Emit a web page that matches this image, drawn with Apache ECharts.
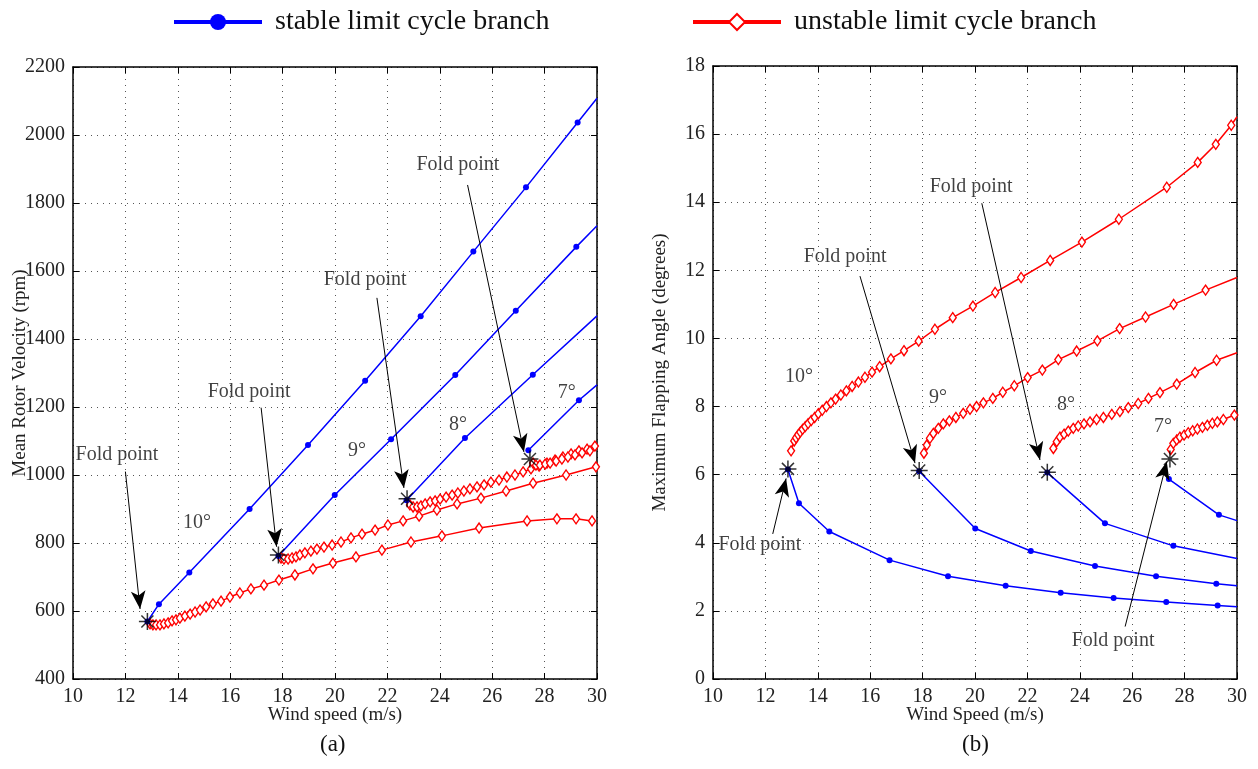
<!DOCTYPE html>
<html>
<head>
<meta charset="utf-8">
<script src="https://cdn.jsdelivr.net/npm/echarts@6/dist/echarts.min.js"></script>
<style>
html,body{margin:0;padding:0;background:#fff;}
#chart{width:1258px;height:769px;}
</style>
</head>
<body>
<div id="chart"></div>
<script>
// ---------- data ----------
// (a) mean rotor velocity (rpm) vs wind speed (m/s)
var rpmStable10 = [[12.84,569],[13.28,620],[14.44,713],[16.74,900],[18.97,1088],[21.15,1277],[23.27,1467],[25.28,1657],[27.29,1846],[29.26,2037],[30,2108]];
var rpmStable9 = [[17.84,762],[19.99,941],[22.14,1105],[24.59,1294],[26.9,1483],[29.21,1671],[30,1733]];
var rpmStable8 = [[22.73,926],[24.96,1109],[27.55,1295],[30,1468]];
var rpmStable7 = [[27.38,1073],[29.31,1220],[30,1265]];

var rpmUnstable10 = [[12.94,562],[13.05,559],[13.17,559],[13.32,559],[13.47,562],[13.63,565],[13.78,571],[13.93,574],[14.08,579],[14.27,585],[14.47,591],[14.66,597],[14.85,603],[15.08,612],[15.34,621],[15.65,629],[15.99,641],[16.37,653],[16.79,665],[17.29,676],[17.86,691],[18.47,706],[19.16,724],[19.92,741],[20.8,759],[21.79,779],[22.9,803],[24.08,821],[25.5,844],[27.33,865],[28.47,871],[29.2,871],[29.81,865]];
var rpmUnstable9 = [[17.94,756],[18.05,753],[18.21,753],[18.36,756],[18.51,759],[18.66,765],[18.85,771],[19.08,776],[19.31,782],[19.58,788],[19.89,794],[20.23,803],[20.61,815],[21.03,826],[21.53,838],[22.02,853],[22.6,865],[23.21,879],[23.89,897],[24.66,915],[25.57,932],[26.53,953],[27.56,976],[28.82,1000],[29.96,1024]];
var rpmUnstable8 = [[22.86,912],[22.98,906],[23.13,906],[23.28,909],[23.44,915],[23.63,921],[23.82,924],[24.01,929],[24.24,935],[24.47,941],[24.69,947],[24.92,953],[25.15,959],[25.42,965],[25.69,971],[25.95,979],[26.26,985],[26.56,994],[26.87,1000],[27.18,1009],[27.48,1018],[27.79,1026],[28.09,1035],[28.4,1044],[28.7,1053],[29.01,1062],[29.31,1071],[29.62,1076],[29.92,1085]];
var rpmUnstable7 = [[27.56,1035],[27.67,1029],[27.82,1029],[28.02,1032],[28.21,1035],[28.44,1041],[28.66,1047],[28.89,1053],[29.16,1059],[29.43,1065],[29.73,1071],[30,1076]];
var rpmFold = [[12.84,569],[17.84,765],[22.75,930],[27.44,1047]];

// (b) maximum flapping angle (degrees) vs wind speed (m/s)
var flapStable10 = [[12.86,6.15],[13.28,5.16],[14.44,4.33],[16.74,3.49],[18.97,3.02],[21.17,2.74],[23.27,2.53],[25.29,2.38],[27.3,2.26],[29.26,2.16],[30,2.12]];
var flapStable9 = [[17.87,6.1],[20.01,4.42],[22.13,3.76],[24.58,3.32],[26.91,3.02],[29.21,2.8],[30,2.74]];
var flapStable8 = [[22.76,6.06],[24.96,4.57],[27.57,3.91],[30,3.54]];
var flapStable7 = [[27.4,5.87],[29.31,4.82],[30,4.65]];

var flapUnstable10 = [[12.98,6.7],[13.1,6.99],[13.17,7.08],[13.25,7.17],[13.33,7.25],[13.42,7.33],[13.52,7.41],[13.63,7.5],[13.75,7.59],[13.88,7.68],[14.02,7.79],[14.17,7.89],[14.33,8.0],[14.5,8.11],[14.68,8.22],[14.88,8.34],[15.09,8.46],[15.31,8.59],[15.55,8.72],[15.8,8.86],[16.07,9.01],[16.36,9.17],[16.79,9.4],[17.29,9.64],[17.85,9.92],[18.47,10.27],[19.15,10.61],[19.92,10.95],[20.77,11.35],[21.76,11.79],[22.87,12.29],[24.08,12.83],[25.49,13.5],[27.32,14.44],[28.5,15.17],[29.19,15.7],[29.78,16.26],[30,16.51]];
var flapUnstable9 = [[18.05,6.63],[18.16,6.87],[18.28,7.07],[18.41,7.21],[18.6,7.36],[18.79,7.49],[19.02,7.58],[19.27,7.68],[19.55,7.8],[19.81,7.92],[20.06,8.0],[20.32,8.11],[20.68,8.24],[21.06,8.42],[21.5,8.61],[22.01,8.85],[22.57,9.07],[23.18,9.38],[23.88,9.63],[24.67,9.93],[25.52,10.29],[26.51,10.63],[27.58,11.0],[28.8,11.42],[30,11.79]];
var flapUnstable8 = [[22.99,6.77],[23.12,6.97],[23.24,7.1],[23.4,7.19],[23.56,7.28],[23.75,7.36],[23.94,7.43],[24.16,7.49],[24.39,7.55],[24.64,7.62],[24.9,7.68],[25.22,7.77],[25.53,7.85],[25.85,7.97],[26.23,8.09],[26.62,8.24],[27.06,8.41],[27.7,8.66],[28.4,9.0],[29.22,9.36],[30,9.58]];
var flapUnstable7 = [[27.47,6.74],[27.57,6.92],[27.7,7.02],[27.82,7.1],[27.98,7.16],[28.14,7.23],[28.31,7.29],[28.49,7.34],[28.68,7.39],[28.87,7.45],[29.06,7.51],[29.25,7.55],[29.48,7.62],[29.9,7.75]];
var flapFold = [[12.86,6.17],[17.87,6.12],[22.76,6.07],[27.44,6.46]];

// annotations: text anchor and arrow (tail -> head) in data units
var rpmNotes = [['Fold point',11.68,1059],['Fold point',16.72,1244],['Fold point',21.15,1574],['Fold point',24.69,1912],
  ['10°',14.73,859],['9°',20.84,1071],['8°',24.69,1147],['7°',28.85,1241]];
var rpmArrows = [[[12.0,1010],[12.56,606]],[[17.18,1198],[17.77,789]],[[21.6,1521],[22.63,962]],[[25.06,1853],[27.21,1068]]];
var flapNotes = [['Fold point',11.79,3.93],['Fold point',15.04,12.39],['Fold point',19.85,14.44],['Fold point',25.27,1.12],
  ['10°',13.28,8.87],['9°',18.59,8.25],['8°',23.47,8.04],['7°',27.18,7.4]];
var flapArrows = [[[12.28,4.26],[12.79,5.89]],[[15.61,11.83],[17.71,6.34]],[[20.26,13.97],[22.48,6.43]],[[25.73,1.54],[27.32,6.38]]];

var STABLE = 'stable limit cycle branch';
var UNSTABLE = 'unstable limit cycle branch';
var FONT = 'Liberation Serif';
var starPath = 'path://M0,-10L0,10M-10,0L10,0M-7.07,-7.07L7.07,7.07M-7.07,7.07L7.07,-7.07';

// points sitting on the right edge are only line ends, no marker
function edge(data) {
    return data.map(function (p) {
        return p[0] >= 30 ? { value: p, symbol: 'none' } : p;
    });
}

function stable(data, g) {
    return {
        name: STABLE, type: 'line', xAxisIndex: g * 2, yAxisIndex: g * 2,
        data: edge(data), symbol: 'circle', symbolSize: 6,
        lineStyle: { color: '#0000ff', width: 1.5 },
        itemStyle: { color: '#0000ff' }, z: 3
    };
}

function unstable(data, g) {
    return {
        name: UNSTABLE, type: 'line', xAxisIndex: g * 2, yAxisIndex: g * 2,
        data: edge(data), symbol: 'diamond', symbolSize: [7, 10],
        lineStyle: { color: '#ff0000', width: 1.5 },
        itemStyle: { color: '#ffffff', borderColor: '#ff0000', borderWidth: 1.4 }, z: 3
    };
}

function folds(data, g) {
    return {
        name: 'fold', type: 'scatter', xAxisIndex: g * 2, yAxisIndex: g * 2,
        data: data, symbol: starPath, symbolSize: 17,
        itemStyle: { color: '#000', borderColor: '#000', borderWidth: 1.5 }, z: 5
    };
}

function notes(list, arrows, g) {
    return {
        name: 'notes', type: 'scatter', xAxisIndex: g * 2, yAxisIndex: g * 2,
        data: list.map(function (n) { return { name: n[0], value: [n[1], n[2]] }; }),
        symbolSize: 1, itemStyle: { color: 'rgba(0,0,0,0)' }, silent: true, z: 6,
        label: { show: true, position: 'inside', formatter: '{b}', color: '#111', fontFamily: FONT, fontSize: 20 },
        markLine: {
            silent: true, symbol: ['none', 'arrow'], symbolSize: [11, 18],
            label: { show: false },
            lineStyle: { color: '#000', width: 1, type: 'solid' },
            data: arrows.map(function (a) { return [{ coord: a[0] }, { coord: a[1] }]; })
        }
    };
}

var tickFont = { color: '#222', fontFamily: FONT, fontSize: 20 };
var plain = function (v) { return String(v); };

function xAxes(g, title) {
    return [{
        type: 'value', gridIndex: g, min: 10, max: 30, interval: 2, position: 'bottom',
        axisLine: { show: true, onZero: false, lineStyle: { color: '#000', width: 1.5 } },
        axisTick: { show: true, inside: true, length: 6, lineStyle: { color: '#000' } },
        axisLabel: Object.assign({ formatter: plain }, tickFont),
        splitLine: { show: true, lineStyle: { color: '#555', width: 1, type: [1, 5] } },
        name: title, nameLocation: 'middle', nameGap: 27, nameMoveOverlap: false,
        nameTextStyle: { color: '#222', fontFamily: FONT, fontSize: 19 }
    }, {
        type: 'value', gridIndex: g, min: 10, max: 30, interval: 2, position: 'top',
        axisLine: { show: true, onZero: false, lineStyle: { color: '#000', width: 1.5 } },
        axisTick: { show: true, inside: true, length: 6, lineStyle: { color: '#000' } },
        axisLabel: { show: false }, splitLine: { show: false }
    }];
}

function yAxes(g, min, max, step, title) {
    return [{
        type: 'value', gridIndex: g, min: min, max: max, interval: step, position: 'left',
        axisLine: { show: true, onZero: false, lineStyle: { color: '#000', width: 1.5 } },
        axisTick: { show: true, inside: true, length: 6, lineStyle: { color: '#000' } },
        axisLabel: Object.assign({ margin: 8, formatter: plain }, tickFont),
        splitLine: { show: true, lineStyle: { color: '#555', width: 1, type: [1, 5] } },
        name: title, nameLocation: 'middle', nameGap: 43, nameMoveOverlap: false,
        nameTextStyle: { color: '#222', fontFamily: FONT, fontSize: 19 }
    }, {
        type: 'value', gridIndex: g, min: min, max: max, interval: step, position: 'right',
        axisLine: { show: true, onZero: false, lineStyle: { color: '#000', width: 1.5 } },
        axisTick: { show: true, inside: true, length: 6, lineStyle: { color: '#000' } },
        axisLabel: { show: false }, splitLine: { show: false }
    }];
}

var legendCommon = {
    top: 3, itemWidth: 88, itemHeight: 20, selectedMode: false,
    lineStyle: { width: 4 },
    textStyle: { color: '#111', fontFamily: FONT, fontSize: 28, padding: [0, 0, 0, 8] }
};

var chart = echarts.init(document.getElementById('chart'));
chart.setOption({
    animation: false,
    backgroundColor: '#fff',
    legend: [
        Object.assign({ left: 167, data: [STABLE] }, legendCommon),
        Object.assign({ left: 686, data: [UNSTABLE] }, legendCommon)
    ],
    grid: [
        { left: 73, top: 67, width: 524, height: 612 },
        { left: 713, top: 66, width: 524, height: 613 }
    ],
    xAxis: xAxes(0, 'Wind speed (m/s)').concat(xAxes(1, 'Wind Speed (m/s)')),
    yAxis: yAxes(0, 400, 2200, 200, 'Mean Rotor Velocity (rpm)').concat(yAxes(1, 0, 18, 2, 'Maximum Flapping Angle (degrees)')),
    graphic: [
        { type: 'text', left: 320, top: 733, style: { text: '(a)', font: '23px "Liberation Serif"', fill: '#111' } },
        { type: 'text', left: 962, top: 733, style: { text: '(b)', font: '23px "Liberation Serif"', fill: '#111' } }
    ],
    series: [
        unstable(rpmUnstable10, 0), unstable(rpmUnstable9, 0), unstable(rpmUnstable8, 0), unstable(rpmUnstable7, 0),
        stable(rpmStable10, 0), stable(rpmStable9, 0), stable(rpmStable8, 0), stable(rpmStable7, 0),
        folds(rpmFold, 0), notes(rpmNotes, rpmArrows, 0),
        unstable(flapUnstable10, 1), unstable(flapUnstable9, 1), unstable(flapUnstable8, 1), unstable(flapUnstable7, 1),
        stable(flapStable10, 1), stable(flapStable9, 1), stable(flapStable8, 1), stable(flapStable7, 1),
        folds(flapFold, 1), notes(flapNotes, flapArrows, 1)
    ]
});
</script>
</body>
</html>
